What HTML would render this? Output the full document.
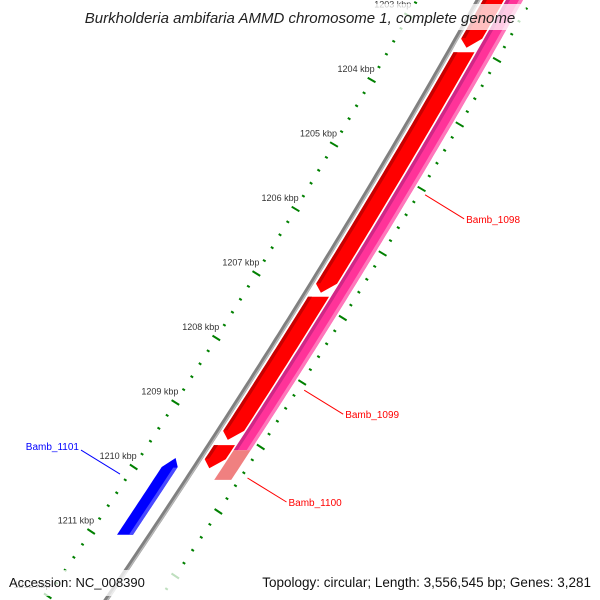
<!DOCTYPE html>
<html><head><meta charset="utf-8"><style>
html,body{margin:0;padding:0;background:#fff;width:600px;height:600px;overflow:hidden;}
svg{display:block;font-family:"Liberation Sans","DejaVu Sans",sans-serif;overflow:hidden;}
</style></head><body>
<svg id="map" width="600" height="600" viewBox="0 0 600 600" xmlns="http://www.w3.org/2000/svg">
<g id="ticks"></g>
<g id="backbone"></g>
<g id="features"></g>
<g id="labels"></g>
<rect x="74" y="4" width="452" height="26" fill="#fff" fill-opacity="0.75"/>
<text x="300" y="23" text-anchor="middle" font-size="15" font-style="italic" fill="#222">Burkholderia ambifaria AMMD chromosome 1, complete genome</text>
<rect x="4" y="570" width="592" height="26" fill="#fff" fill-opacity="0.75"/>
<text x="9" y="587" font-size="13" fill="#111">Accession: NC_008390</text>
<text x="591" y="587" font-size="13.5" fill="#111" text-anchor="end">Topology: circular; Length: 3,556,545 bp; Genes: 3,281</text>
</svg>
<script>
// data (kbp positions)
const majorTicks = [1202, 1203, 1204, 1205, 1206, 1207, 1208, 1209, 1210, 1211, 1212];
const tickLabels = ["1202 kbp","1203 kbp","1204 kbp","1205 kbp","1206 kbp","1207 kbp","1208 kbp","1209 kbp","1210 kbp","1211 kbp","1212 kbp"];
const redStarts = [1202.6, 1203.57, 1207.36, 1209.66];
const redEnds = [1203.5, 1207.3, 1209.58, 1210.02];
const pinkStarts = [1202.5];
const pinkEnds = [1209.74];
const salmonStarts = [1209.74];
const salmonEnds = [1210.2];
const blueStarts = [1209.86];
const blueEnds = [1211.05];
const labelNames = ["Bamb_1098", "Bamb_1099", "Bamb_1100", "Bamb_1101"];
const labelAt = [1205.78, 1208.81, 1210.17, 1210.11];

const NS = "http://www.w3.org/2000/svg";
function yOf(k){ return 80 + (k - 1204) * 64.5; }
function xg(y){ return 478 - 0.56*y - 0.0001*y*y; }
function slope(y){ return -0.56 - 0.0002*y; }
function mk(tag, attrs, parent){ const e=document.createElementNS(NS,tag); for(const a in attrs) e.setAttribute(a,attrs[a]); parent.appendChild(e); return e; }

const gB=document.getElementById('backbone'), gF=document.getElementById('features'), gT=document.getElementById('ticks'), gL=document.getElementById('labels');

// backbone
let d="";
for(let y=-10;y<=610;y+=5){ d+=(y===-10?"M":"L")+xg(y).toFixed(1)+","+y+" "; }
const bb=mk('path',{d:d,fill:'none',stroke:'#808080','stroke-width':4.5},gB);


const bb2=mk('path',{d:d,fill:'none',stroke:'#b8b8b8','stroke-width':1.4,transform:'translate(1.6,0)'},gB);



function band(k0,k1,a,b,fill,arrow,name){
  const y0=yOf(k0), y1=yOf(k1), ah=9;
  const ys0 = arrow==='top'? y0+ah : y0, ys1 = arrow==='bottom'? y1-ah : y1;
  let left=[], right=[];
  for(let y=ys0;y<=ys1;y+=4){ left.push([xg(y)+a,y]); right.push([xg(y)+b,y]); }
  left.push([xg(ys1)+a,ys1]); right.push([xg(ys1)+b,ys1]);
  let pts=[...left];
  if(arrow==='bottom') pts.push([xg(y1)+(a+b)/2, y1]);
  pts=pts.concat(right.reverse());
  if(arrow==='top') pts.push([xg(y0)+(a+b)/2, y0]);
  const p=mk('polygon',{points:pts.map(q=>q[0].toFixed(1)+","+q[1].toFixed(1)).join(" "),fill:fill},gF);
  
  
  return p;
}
for(let i=0;i<pinkStarts.length;i++){
  band(pinkStarts[i],pinkEnds[i],28,45,'#ff3399',null,'gene-bamb-1098-track');
  const h=band(pinkStarts[i],pinkEnds[i],28,32,'#b0207a',null,'gene-shade');
  h.setAttribute('fill-opacity','0.6');
  const l=band(pinkStarts[i],pinkEnds[i],41,45,'#ff77bb',null,'gene-light-edge');
}
for(let i=0;i<salmonStarts.length;i++) band(salmonStarts[i],salmonEnds[i],28,45,'#f08080',null,'gene-bamb-1100');
for(let i=0;i<redStarts.length;i++){
  band(redStarts[i],redEnds[i],5,26,'#ff0000','bottom','gene-red-'+i);
  band(redStarts[i],redEnds[i]-0.15,5,9,'#c80000',null,'gene-red-shade-'+i);
}
for(let i=0;i<blueStarts.length;i++){
  band(blueStarts[i],blueEnds[i],-33,-17,'#0000ff','top','gene-bamb-1101');
  band(blueStarts[i]+0.15,blueEnds[i],-21,-17,'#4a4aff',null,'gene-blue-shade');
}

function tick(x,y,len,w,name){
  const m=slope(y), n=Math.hypot(1,m), nx=1/n, ny=-m/n;
  const t=mk('line',{x1:(x-nx*len/2).toFixed(1),y1:(y-ny*len/2).toFixed(1),x2:(x+nx*len/2).toFixed(1),y2:(y+ny*len/2).toFixed(1),stroke:'#008000','stroke-width':w},gT);
  
  
}
for(let i=0;i<majorTicks.length;i++){
  const k=majorTicks[i];
  for(let j=0;j<5;j++){
    const kk=k+j*0.2;
    const yi=yOf(kk), yo=yOf(kk)-20;
    tick(xg(yi)-61,yi,j===0?9:3,2,j===0?'inner-major-tick':'inner-minor-tick');
    tick(xg(yo)+53,yo,j===0?9:3,2,j===0?'outer-major-tick':'outer-minor-tick');
  }
  const yl=yOf(k)-8;
  const t=mk('text',{x:(xg(yOf(k))-58).toFixed(1),y:yl.toFixed(1),'font-size':9,fill:'#333','text-anchor':'end'},gT);
  t.textContent=tickLabels[i];
  
  
}

const labelCfg=[['#ff0000',1],['#ff0000',1],['#ff0000',1],['#0000ff',-1]];
for(let i=0;i<labelNames.length;i++){
  const y=yOf(labelAt[i]), c=labelCfg[i][0], dir=labelCfg[i][1];
  const x0=xg(y)+(dir>0?60:-70);
  const x1=x0+dir*39, y1=y+dir*24;
  const ln=mk('line',{x1:x0.toFixed(1),y1:y.toFixed(1),x2:x1.toFixed(1),y2:y1.toFixed(1),stroke:c,'stroke-width':1},gL);
  
  
  const tx=mk('text',{x:(x1+dir*2).toFixed(1),y:(y1+(dir>0?4:0)).toFixed(1),'font-size':10,fill:c,'text-anchor':dir>0?'start':'end'},gL);
  tx.textContent=labelNames[i];
  
  
}
</script>
</body></html>
